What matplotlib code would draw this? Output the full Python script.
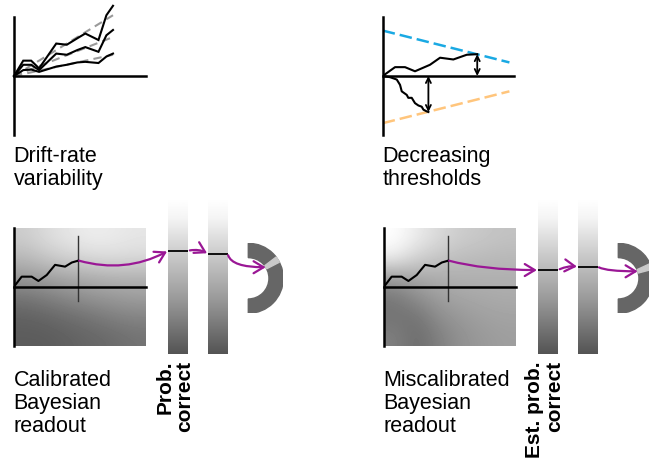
import numpy as np
import matplotlib
matplotlib.use("Agg")
import matplotlib.pyplot as plt
from matplotlib.patches import Wedge, ConnectionPatch, ArrowStyle

plt.rcParams['font.family'] = ['Liberation Sans', 'DejaVu Sans']

# ---------------- data ----------------
# Drift-rate variability: three evidence traces with their mean drift lines
drift_t = [0, 0.07, 0.13, 0.19, 0.32, 0.40, 0.48, 0.54, 0.64, 0.70, 0.75]
drift_fast = [0, 0.26, 0.26, 0.13, 0.55, 0.53, 0.64, 0.72, 0.61, 1.03, 1.19]
drift_mid = [0, 0.19, 0.19, 0.10, 0.38, 0.36, 0.44, 0.49, 0.41, 0.69, 0.78]
drift_slow = [0, 0.10, 0.11, 0.07, 0.16, 0.19, 0.23, 0.24, 0.22, 0.33, 0.38]
mean_drift_t = [0, 0.75]
mean_drift_end = [1.03, 0.66, 0.36]

# Decreasing thresholds: collapsing bounds and two traces hitting them
bound_t = [0, 0.965]
upper_bound = [0.77, 0.23]
lower_bound = [-0.80, -0.26]
up_t = [0, 0.094, 0.17, 0.246, 0.36, 0.437, 0.538, 0.64, 0.72]
up_v = [0, 0.15, 0.15, 0.08, 0.19, 0.31, 0.28, 0.36, 0.37]
down_t = [0, 0.056, 0.107, 0.132, 0.145, 0.183, 0.195, 0.221, 0.246,
          0.272, 0.297, 0.31, 0.335, 0.348]
down_v = [0, -0.02, -0.06, -0.15, -0.26, -0.32, -0.37, -0.37, -0.46,
          -0.50, -0.52, -0.57, -0.60, -0.61]

# Bayesian readout: evidence trace up to the decision time
readout_t = [0, 0.058, 0.134, 0.185, 0.248, 0.311, 0.387, 0.438, 0.484]
readout_v = [0, 0.17, 0.17, 0.097, 0.198, 0.37, 0.34, 0.41, 0.44]
decision_line_v = [-0.24, 0.86]

# Gray level maps of probability correct over (time, evidence); rows top->bottom
calib_map = [
    [0.80, 0.86, 0.90, 0.93, 0.92, 0.90],
    [0.72, 0.78, 0.82, 0.85, 0.86, 0.85],
    [0.60, 0.63, 0.66, 0.68, 0.70, 0.70],
    [0.46, 0.50, 0.54, 0.58, 0.60, 0.62],
    [0.38, 0.40, 0.43, 0.46, 0.50, 0.52],
    [0.36, 0.36, 0.38, 0.40, 0.42, 0.45],
]
miscal_map = [
    [1.00, 0.92, 0.85, 0.80, 0.78, 0.76],
    [0.93, 0.82, 0.77, 0.74, 0.73, 0.72],
    [0.62, 0.66, 0.68, 0.69, 0.69, 0.69],
    [0.47, 0.56, 0.62, 0.65, 0.66, 0.67],
    [0.45, 0.45, 0.56, 0.60, 0.63, 0.64],
    [0.50, 0.42, 0.50, 0.57, 0.60, 0.62],
]

# Gray ramp of the probability bars, from top (0) to bottom (1)
bar_ramp_pos = [0.0, 0.12, 0.35, 0.65, 1.0]
bar_ramp_gray = [1.0, 0.96, 0.80, 0.60, 0.33]

# Bar readouts (probability correct) and the dial readout
calib_bars = [0.67, 0.65]
miscal_bars = [0.545, 0.567]
calib_dial = 0.68
miscal_dial = 0.61

# ---------------- layout helpers ----------------
W, H = 649, 463
fig = plt.figure(figsize=(W / 100, H / 100), dpi=100)

PURPLE = '#9a1795'
AX_LW = 1.8
TRACE_LW = 1.5


def px_axes(x0, y0, x1, y1):
    return fig.add_axes([x0 / W, 1 - y1 / H, (x1 - x0) / W, (y1 - y0) / H])


def trace_axes(x0, y0, x1, y1):
    ax = px_axes(x0, y0, x1, y1)
    ax.set_xlim(0, 1)
    ax.set_ylim(-1, 1)
    ax.patch.set_alpha(0)
    for s in ('top', 'right'):
        ax.spines[s].set_visible(False)
    ax.spines['left'].set_linewidth(AX_LW)
    ax.spines['bottom'].set_linewidth(AX_LW)
    ax.spines['bottom'].set_position(('data', 0))
    ax.set_xticks([])
    ax.set_yticks([])
    return ax


def ftext(x, y, s, **kw):
    fig.text(x / W, 1 - y / H, s, **kw)


LABEL = dict(fontsize=15.5, ha='left', va='top', linespacing=1.1)
BARLABEL = dict(fontsize=15, fontweight='bold', rotation=90, ha='left',
                va='top', multialignment='right', linespacing=1.05)

# ---------------- drift-rate variability ----------------
ax1 = trace_axes(14, 17, 146, 135)
for end in mean_drift_end:
    ax1.plot(mean_drift_t, [0, end], color='#9a9a9a', lw=1.5,
             dashes=(4, 2.5), clip_on=False)
for tr in (drift_fast, drift_mid, drift_slow):
    ax1.plot(drift_t, tr, color='black', lw=TRACE_LW, clip_on=False,
             solid_joinstyle='miter')
ftext(13.5, 146.5, 'Drift-rate\nvariability', **LABEL)

# ---------------- decreasing thresholds ----------------
ax2 = trace_axes(382.7, 17, 514, 135)
ax2.plot(bound_t, upper_bound, color='#1aa9e3', lw=1.8, dashes=(5, 2))
ax2.plot(bound_t, lower_bound, color='#ffc57c', lw=1.8, dashes=(5, 2))
ax2.plot(up_t, up_v, color='black', lw=TRACE_LW)
ax2.plot(down_t, down_v, color='black', lw=TRACE_LW)
for t_end, v_end in ((up_t[-1], up_v[-1]), (down_t[-1], down_v[-1])):
    ax2.annotate('', xy=(t_end, v_end), xytext=(t_end, 0),
                 arrowprops=dict(arrowstyle='<->', color='black', lw=1.3,
                                 shrinkA=0, shrinkB=0, mutation_scale=9))
ftext(382.5, 146.5, 'Decreasing\nthresholds', **LABEL)


# ---------------- Bayesian readout panels ----------------
def readout_panel(x0, shade, bars, dial, label, bar_label, styles):
    ax = trace_axes(x0, 227.7, x0 + 132, 345.7)
    ax.imshow(np.array(shade), cmap='gray', vmin=0, vmax=1,
              extent=(0, 1, -1, 1), aspect='auto', interpolation='bicubic',
              zorder=0)
    ax.plot([readout_t[-1]] * 2, decision_line_v, color='#333333', lw=1.0)
    ax.plot(readout_t, readout_v, color='black', lw=TRACE_LW)

    # gradient bars with their markers
    ramp = np.interp(np.linspace(0, 1, 256), bar_ramp_pos, bar_ramp_gray)[:, None]
    bar_axes = []
    for i, val in enumerate(bars):
        bx = x0 + 154.3 + 40 * i
        bax = px_axes(bx, 200, bx + 19.5, 354)
        bax.imshow(ramp, cmap='gray', vmin=0, vmax=1, extent=(0, 1, 0, 1),
                   aspect='auto', interpolation='bilinear')
        bax.plot([0, 1], [val, val], color='black', lw=1.3)
        bax.set_xlim(0, 1)
        bax.set_ylim(0, 1)
        bax.axis('off')
        bar_axes.append(bax)

    # semicircular dial
    cx = x0 + 234.3
    rax = px_axes(cx - 35, 243.3, cx + 35, 313.3)
    rax.set_xlim(-1, 1)
    rax.set_ylim(-1, 1)
    rax.axis('off')
    inner = 0.59
    rax.add_patch(Wedge((0, 0), 1, -90, 90, width=1 - inner,
                        color='#666666'))
    theta = (dial - 0.5) * 180
    rax.add_patch(Wedge((0, 0), 1, theta - 5, theta + 5, width=1 - inner,
                        color='#c9c9c9'))
    tip = (inner * np.cos(np.radians(theta)), inner * np.sin(np.radians(theta)))

    head = ArrowStyle('->', head_length=0.4, head_width=0.24)
    links = [
        ((readout_t[-1] + 0.01, readout_v[-1]), ax, (0, bars[0]), bar_axes[0],
         styles[0], 0, 1),
        ((1, bars[0]), bar_axes[0], (0, bars[1]), bar_axes[1], styles[1], 1.5, 1),
        ((1, bars[1]), bar_axes[1], tip, rax, styles[2], 1, 0),
    ]
    for xyA, axA, xyB, axB, cs, sa, sb in links:
        con = ConnectionPatch(xyA=xyA, coordsA=axA.transData, xyB=xyB,
                              coordsB=axB.transData, arrowstyle=head,
                              connectionstyle=cs, mutation_scale=18,
                              color=PURPLE, lw=1.6, shrinkA=sa, shrinkB=sb)
        fig.add_artist(con)

    ftext(x0 - 0.5, 370.5, label, **LABEL)
    ftext(x0 + 141.5, 361, bar_label, **BARLABEL)


readout_panel(14, calib_map, calib_bars, calib_dial,
              'Calibrated\nBayesian\nreadout', 'Prob.\ncorrect',
              ['arc3,rad=0.2', 'arc3,rad=-0.2', 'angle3,angleA=-80,angleB=0'])
readout_panel(384, miscal_map, miscal_bars, miscal_dial,
              'Miscalibrated\nBayesian\nreadout', 'Est. prob.\ncorrect',
              ['angle3,angleA=-15,angleB=0', 'arc3,rad=-0.15',
               'angle3,angleA=-35,angleB=0'])

fig.savefig('out.png', dpi=100)
